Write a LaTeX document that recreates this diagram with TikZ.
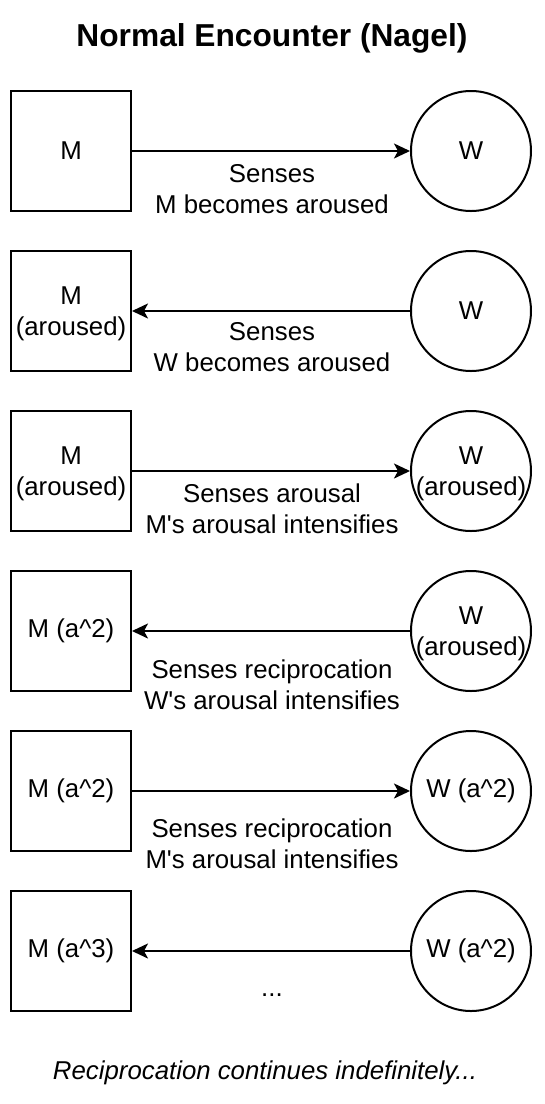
\documentclass[tikz,border=0pt]{standalone}
\usepackage{fontspec}
\setmainfont{Liberation Sans}
\usetikzlibrary{arrows.meta}
\newcommand{\twoline}[2]{\raisebox{-3pt}[\height][\depth]{\begin{tabular}{@{}c@{}}#1\\#2\end{tabular}}}
\begin{document}
\begin{tikzpicture}[x=1pt,y=-1pt,
  txt/.style={font=\fontsize{25.8}{31}\selectfont},
  box/.style={txt, draw, line width=2pt, minimum size=120pt, inner sep=0pt, align=center},
  circ/.style={draw, circle, line width=2pt, minimum size=120pt, inner sep=0pt},
  inl/.style={txt, align=center, inner sep=0pt},
  lbl/.style={txt, align=center, inner sep=0pt, anchor=base},
  arr/.style={line width=2pt, -{Stealth[length=16pt,width=15pt,inset=4pt]}}]
\path[use as bounding box] (0,0) rectangle (544,1104);
\fill[white] (0,0) rectangle (544,1104);

\node[font=\fontsize{31.7}{38}\selectfont\bfseries] (title) at (272,38) {Normal Encounter (Nagel)};

% row 1
\node[box] (m1) at (71,151) {M};
\node[circ, label={[inl]center:W}] (w1) at (471,151) {};
\draw[arr] (m1) -- (w1);
\node[lbl] (l1) at (272,213) {Senses\\M becomes aroused};

% row 2
\node[box] (m2) at (71,311) {\twoline{M}{(aroused)}};
\node[circ, label={[inl]center:W}] (w2) at (471,311) {};
\draw[arr] (w2) -- (m2);
\node[lbl] (l2) at (272,371) {Senses\\W becomes aroused};

% row 3
\node[box] (m3) at (71,471) {\twoline{M}{(aroused)}};
\node[circ, label={[inl, yshift=-3pt]center:W\\(aroused)}] (w3) at (471,471) {};
\draw[arr] (m3) -- (w3);
\node[lbl] (l3) at (272,533) {Senses arousal\\M\textquotesingle s arousal intensifies};

% row 4
\node[box] (m4) at (71,631) {M (a\textasciicircum 2)};
\node[circ, label={[inl, yshift=-3pt]center:W\\(aroused)}] (w4) at (471,631) {};
\draw[arr] (w4) -- (m4);
\node[lbl] (l4) at (272,709) {Senses reciprocation\\W\textquotesingle s arousal intensifies};

% row 5
\node[box] (m5) at (71,791) {M (a\textasciicircum 2)};
\node[circ, label={[inl]center:W (a\textasciicircum 2)}] (w5) at (471,791) {};
\draw[arr] (m5) -- (w5);
\node[lbl] (l5) at (272,868) {Senses reciprocation\\M\textquotesingle s arousal intensifies};

% row 6
\node[box] (m6) at (71,951) {M (a\textasciicircum 3)};
\node[circ, label={[inl]center:W (a\textasciicircum 2)}] (w6) at (471,951) {};
\draw[arr] (w6) -- (m6);
\node[lbl] (l6) at (272,996) {...};

\node[txt, font=\fontsize{25.8}{31}\selectfont\itshape] (foot) at (265,1073) {Reciprocation continues indefinitely...};
\end{tikzpicture}
\end{document}
